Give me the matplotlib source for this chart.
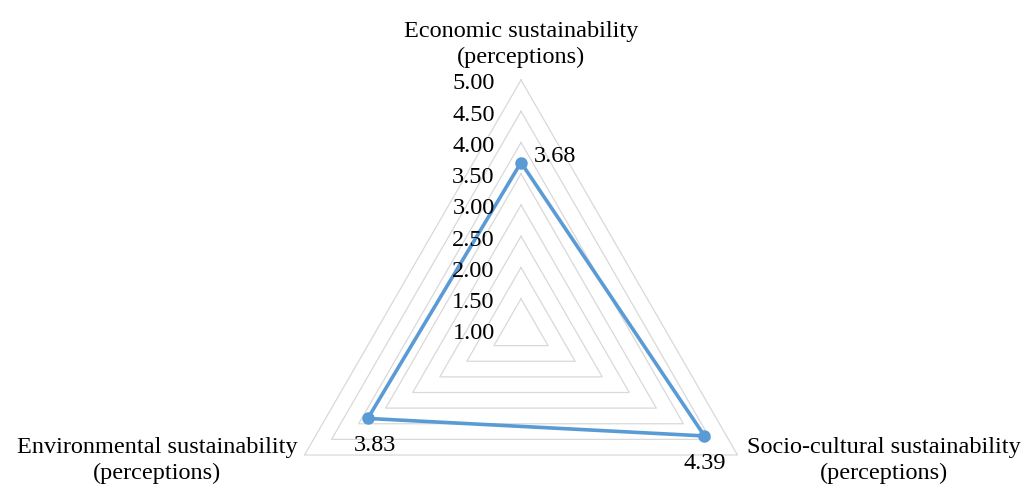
import numpy as np
import matplotlib
matplotlib.use("Agg")
import matplotlib.pyplot as plt

categories = ["Economic sustainability\n(perceptions)",
              "Socio-cultural sustainability\n(perceptions)",
              "Environmental sustainability\n(perceptions)"]
values = [3.68, 4.39, 3.83]
value_labels = ["3.68", "4.39", "3.83"]
levels = [1.5, 2.0, 2.5, 3.0, 3.5, 4.0, 4.5, 5.0]
tick_values = [1.0, 1.5, 2.0, 2.5, 3.0, 3.5, 4.0, 4.5, 5.0]
tick_labels = ["1.00", "1.50", "2.00", "2.50", "3.00", "3.50", "4.00", "4.50", "5.00"]

plt.rcParams['font.family'] = ['Liberation Serif', 'DejaVu Serif']
fs = 17.5
blue = '#5B9BD5'
grid_c = '#D9D9D9'

W, H = 1024, 485
fig = plt.figure(figsize=(W / 100, H / 100), dpi=100)
cx, cy, R = 521, 331, 250
ax = fig.add_axes([(cx - R) / W, (H - cy - R) / H, 2 * R / W, 2 * R / H],
                  projection='polar')
ax.set_theta_offset(np.pi / 2)
ax.set_theta_direction(-1)
ax.set_ylim(1, 5)
ax.set_axis_off()

n = len(categories)
theta = np.linspace(0, 2 * np.pi, n, endpoint=False)
theta_c = np.append(theta, theta[0])

# polygon grid
for lv in levels:
    ax.plot(theta_c, [lv] * (n + 1), color=grid_c, lw=0.9, zorder=1, clip_on=False)

# series
vals_c = values + values[:1]
ax.plot(theta_c, vals_c, color=blue, lw=2.6, zorder=3, clip_on=False)
ax.plot(theta, values, 'o', color=blue, ms=8, zorder=4, clip_on=False)

# radial tick labels
for v, lab in zip(tick_values, tick_labels):
    ax.annotate(lab, xy=(0, v), xytext=(-19, -2), textcoords='offset points',
                ha='right', va='center', fontsize=fs, color='black',
                annotation_clip=False)

# data labels
offsets = [(9, 5, 'left'), (0, -19, 'center'), (5, -19, 'center')]
for t, v, lab, (dx, dy, ha) in zip(theta, values, value_labels, offsets):
    ax.annotate(lab, xy=(t, v), xytext=(dx, dy), textcoords='offset points',
                ha=ha, va='center', fontsize=fs, annotation_clip=False)

# category labels
cat_pos = [(0, 9, 'center', 'bottom'), (7, -3, 'left', 'center'),
           (-5, -3, 'right', 'center')]
for t, lab, (dx, dy, ha, va) in zip(theta, categories, cat_pos):
    ax.annotate(lab, xy=(t, 5), xytext=(dx, dy), textcoords='offset points',
                ha=ha, va=va, ma='center', fontsize=fs, linespacing=1.3,
                annotation_clip=False)

fig.savefig('out.png', dpi=100)
